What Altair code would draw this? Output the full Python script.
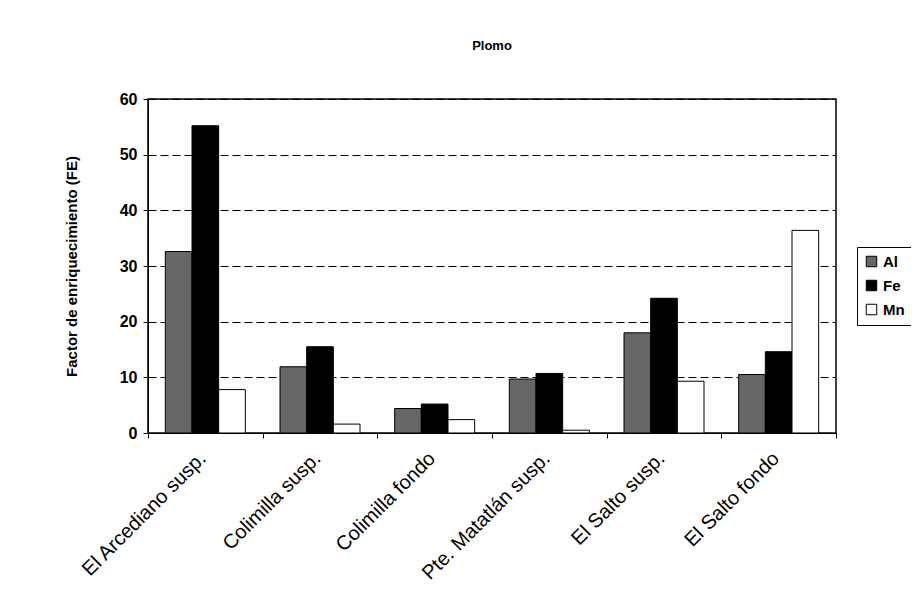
import altair as alt
import pandas as pd

categories = ["El Arcediano susp.", "Colimilla susp.", "Colimilla fondo",
              "Pte. Matatlán susp.", "El Salto susp.", "El Salto fondo"]
series = ["Al", "Fe", "Mn"]
al = [32.6, 11.9, 4.4, 9.7, 18.0, 10.5]
fe = [55.2, 15.5, 5.2, 10.7, 24.2, 14.6]
mn = [7.8, 1.6, 2.4, 0.5, 9.3, 36.4]
y_ticks = [0, 10, 20, 30, 40, 50, 60]

rows = []
for i, c in enumerate(categories):
    for s, vals in zip(series, [al, fe, mn]):
        rows.append({"cat": c, "serie": s, "val": vals[i]})
df = pd.DataFrame(rows)

FONT = "Liberation Sans"

chart = alt.Chart(df).mark_bar(stroke="black", strokeWidth=1).encode(
    x=alt.X("cat:N", sort=categories, title=None,
            scale=alt.Scale(paddingInner=0, paddingOuter=0),
            axis=alt.Axis(labelAngle=-45, labelFont=FONT, labelFontSize=20,
                          labelFontWeight="normal", labelColor="black",
                          tickBand="extent", tickColor="black", tickSize=5,
                          domainColor="black", labelPadding=10, labelOffset=-10)),
    xOffset=alt.XOffset("serie:N", sort=series,
                        scale=alt.Scale(paddingOuter=0.65, paddingInner=0)),
    y=alt.Y("val:Q", title="Factor de enriquecimiento (FE)",
            scale=alt.Scale(domain=[0, 60], nice=False),
            axis=alt.Axis(values=y_ticks, labelFont=FONT, labelFontSize=16,
                          labelFontWeight="bold", labelColor="black",
                          titleFont=FONT, titleFontSize=15, titleFontWeight="bold",
                          titleColor="black", titlePadding=40, labelPadding=6,
                          tickColor="black", tickSize=5, domainColor="black",
                          grid=True, gridColor="black", gridDash=[8, 4],
                          gridWidth=1)),
    color=alt.Color("serie:N", sort=series,
                    scale=alt.Scale(domain=series, range=["#666666", "#000000", "#ffffff"]),
                    legend=alt.Legend(title=None, orient="none", legendX=709, legendY=148,
                                      symbolType="square", symbolSize=110,
                                      symbolStrokeColor="black", symbolStrokeWidth=1,
                                      labelFont=FONT, labelFontSize=15,
                                      labelFontWeight="bold", labelColor="black",
                                      strokeColor="black", padding=7,
                                      rowPadding=8)),
).properties(
    width=688, height=334,
    title=alt.TitleParams("Plomo", font=FONT, fontSize=13, fontWeight="bold",
                          color="black", offset=38, anchor="middle"),
    autosize=alt.AutoSizeParams(type="none"),
    padding={"left": 140, "top": 91, "right": 75, "bottom": 160},
).configure(background="white").configure_view(stroke="black", strokeWidth=1.5)

chart.save("out.html", embed_options={"renderer": "svg", "actions": False})
